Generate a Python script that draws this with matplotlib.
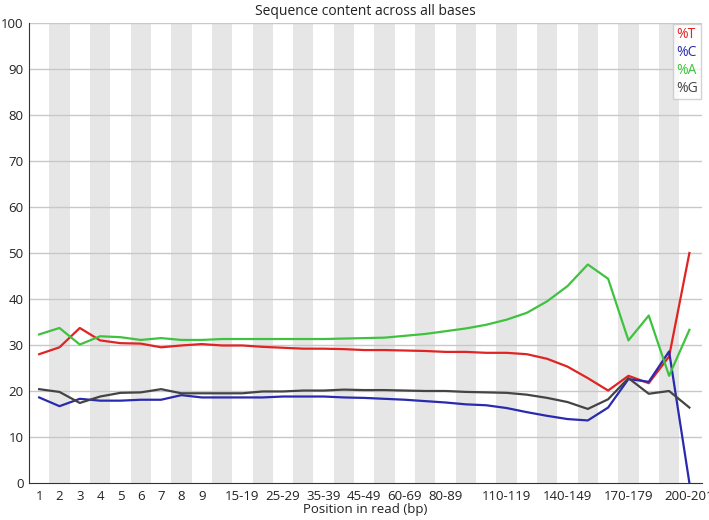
import matplotlib
matplotlib.use('Agg')
import matplotlib.pyplot as plt

# position bins (x categories)
positions = ['1', '2', '3', '4', '5', '6', '7', '8', '9',
             '10-14', '15-19', '20-24', '25-29', '30-34', '35-39', '40-44', '45-49',
             '50-59', '60-69', '70-79', '80-89', '90-99', '100-109', '110-119',
             '120-129', '130-139', '140-149', '150-159', '160-169', '170-179',
             '180-189', '190-199', '200-201']
shown_labels = ['1', '2', '3', '4', '5', '6', '7', '8', '9', '15-19', '25-29', '35-39',
                '45-49', '60-69', '80-89', '110-119', '140-149', '170-179', '200-201']

# base content (%) per position bin
pct_T = [28.0, 29.5, 33.7, 31.0, 30.4, 30.3, 29.5, 29.9, 30.2, 29.9, 29.9, 29.6, 29.4,
         29.2, 29.2, 29.1, 28.9, 28.9, 28.8, 28.7, 28.5, 28.5, 28.3, 28.3, 28.0, 27.0,
         25.3, 22.8, 20.1, 23.3, 21.7, 27.5, 50.0]
pct_C = [18.6, 16.7, 18.3, 17.9, 17.9, 18.1, 18.1, 19.1, 18.6, 18.6, 18.6, 18.6, 18.8,
         18.8, 18.8, 18.6, 18.5, 18.3, 18.1, 17.8, 17.5, 17.1, 16.9, 16.3, 15.4, 14.6,
         13.9, 13.6, 16.4, 22.6, 22.0, 28.6, 0.0]
pct_A = [32.3, 33.7, 30.1, 31.9, 31.7, 31.1, 31.5, 31.1, 31.1, 31.3, 31.3, 31.3, 31.3,
         31.3, 31.3, 31.4, 31.5, 31.6, 32.0, 32.4, 33.0, 33.6, 34.4, 35.5, 37.0, 39.5,
         42.8, 47.5, 44.4, 31.0, 36.4, 23.3, 33.3]
pct_G = [20.4, 19.8, 17.4, 18.8, 19.6, 19.7, 20.4, 19.5, 19.5, 19.5, 19.5, 19.9, 19.9,
         20.1, 20.1, 20.3, 20.2, 20.2, 20.1, 20.0, 20.0, 19.8, 19.7, 19.6, 19.2, 18.5,
         17.6, 16.1, 18.2, 22.8, 19.4, 20.0, 16.4]

series = [('%T', pct_T, '#e02424'), ('%C', pct_C, '#2a2aae'),
          ('%A', pct_A, '#3fc23f'), ('%G', pct_G, '#444444')]

plt.rcParams['font.family'] = ['Open Sans', 'DejaVu Sans']
fig = plt.figure(figsize=(7.09, 5.2), dpi=100)
ax = fig.add_axes([29/709, 37/520, 673/709, 460/520])

x = list(range(len(positions)))
# alternating grey stripes
for i in x:
    if i % 2 == 1:
        ax.axvspan(i - 0.5, i + 0.5, color='#e6e6e6', lw=0, zorder=0)
for v in range(10, 101, 10):
    ax.axhline(v, color='#c8c8c8', lw=1, zorder=1)

for name, vals, col in series:
    ax.plot(x, vals, color=col, lw=1.6, label=name, zorder=3)

ax.set_xlim(-0.5, 32.62)
ax.set_ylim(0, 100)
ax.set_yticks(range(0, 101, 10))
ticks = [positions.index(l) for l in shown_labels]
ax.set_xticks(ticks)
ax.set_xticklabels(shown_labels)
ax.tick_params(length=0, labelsize=9.5, colors='#222222', pad=5)
ax.tick_params(axis='y', pad=4)
for s in ['top', 'right']:
    ax.spines[s].set_visible(False)
for s in ['left', 'bottom']:
    ax.spines[s].set_color('#333333')

ax.set_title('Sequence content across all bases', fontsize=10, color='#222222', pad=6)
ax.set_xlabel('Position in read (bp)', fontsize=9.5, color='#222222', labelpad=0)

leg = ax.legend(loc='upper right', handlelength=0, handletextpad=0, labelcolor='linecolor',
                fontsize=10, frameon=True, fancybox=False, borderaxespad=0.05,
                borderpad=0.25, labelspacing=0.2)
leg.get_frame().set_edgecolor('#c8c8c8')
leg.get_frame().set_linewidth(1)
for h in leg.legend_handles:
    h.set_visible(False)

fig.savefig('out.png', dpi=100)
